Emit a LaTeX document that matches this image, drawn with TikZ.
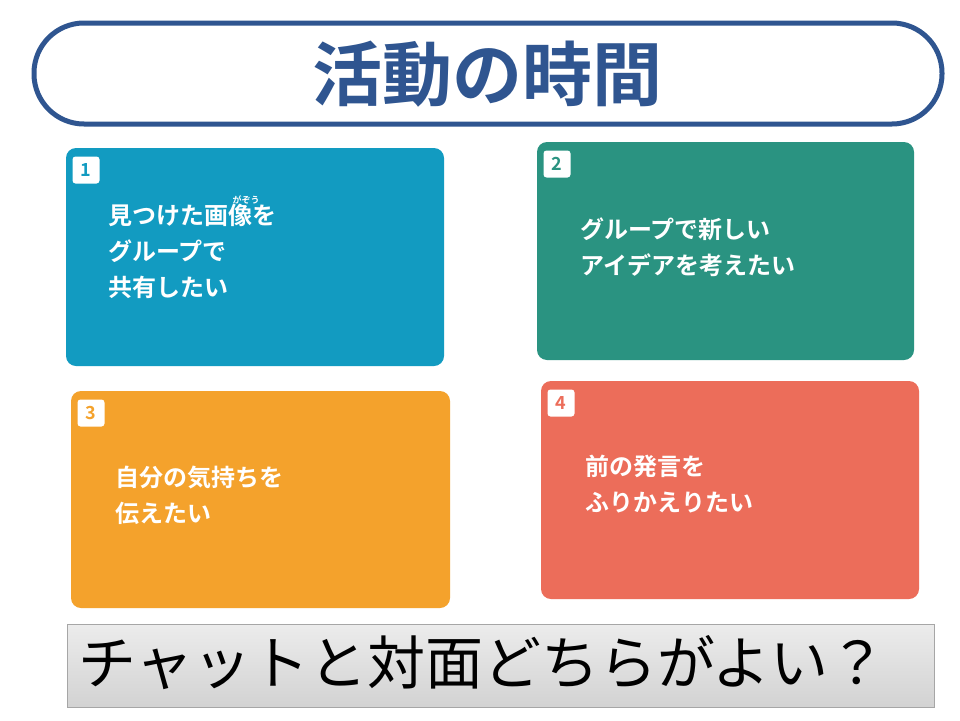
\documentclass[tikz,border=0pt]{standalone}
\usepackage{fontspec}
\newfontfamily\cjk{Noto Sans CJK JP}
\newfontfamily\cjkb{Noto Sans CJK JP Bold}
\definecolor{tblue}{HTML}{2F5590}
\definecolor{c1}{HTML}{129BC1}
\definecolor{c2}{HTML}{2A9381}
\definecolor{c3}{HTML}{F4A22C}
\definecolor{c4}{HTML}{EC6D5A}
\tikzset{card/.style={rounded corners=10pt},
 badge/.style={fill=white,rounded corners=3pt,minimum size=27pt,inner sep=0pt,font=\cjkb\fontsize{18}{18}\selectfont},
 ctext/.style={text=white,font=\cjkb\fontsize{24}{36}\selectfont,align=left,anchor=north west,inner sep=0pt}}
\begin{document}
\begin{tikzpicture}[x=1pt,y=-1pt]
\useasboundingbox (0,0) rectangle (960,720);
\fill[white] (0,0) rectangle (960,720);
\draw[tblue,line width=5pt,rounded corners=50pt,fill=white] (34,23) rectangle (942,124);
\node[text=tblue,font=\cjkb\fontsize{70}{70}\selectfont] (title) at (487,74) {活動の時間};
\fill[c1,card] (66,148) rectangle (444,366);
\fill[c2,card] (537,142) rectangle (914,360);
\fill[c3,card] (71,391) rectangle (450,608);
\fill[c4,card] (541,381) rectangle (919,599);
\node[badge,text=c1] (b1) at (86,170) {1};
\node[badge,text=c2] (b2) at (557,164) {2};
\node[badge,text=c3] (b3) at (91,413) {3};
\node[badge,text=c4] (b4) at (561,403) {4};
\node[ctext] (t1) at (108,204) {見つけた画像を\\グループで\\共有したい};
\node[text=white,font=\cjkb\fontsize{9}{9}\selectfont,inner sep=0pt] (r1) at (246,200) {がぞう};
\node[ctext] (t2) at (580,218) {グループで新しい\\アイデアを考えたい};
\node[ctext] (t3) at (115,466) {自分の気持ちを\\伝えたい};
\node[ctext] (t4) at (585,455) {前の発言を\\ふりかえりたい};
\shade[top color=gray!15,bottom color=gray!35] (67,624) rectangle (934,707);
\draw[gray!70] (67,624) rectangle (934,707);
\node[anchor=west,font=\cjk\fontsize{58}{58}\selectfont,inner sep=0pt] (q) at (78,663) {チャットと対面どちらがよい？};
\end{tikzpicture}
\end{document}
